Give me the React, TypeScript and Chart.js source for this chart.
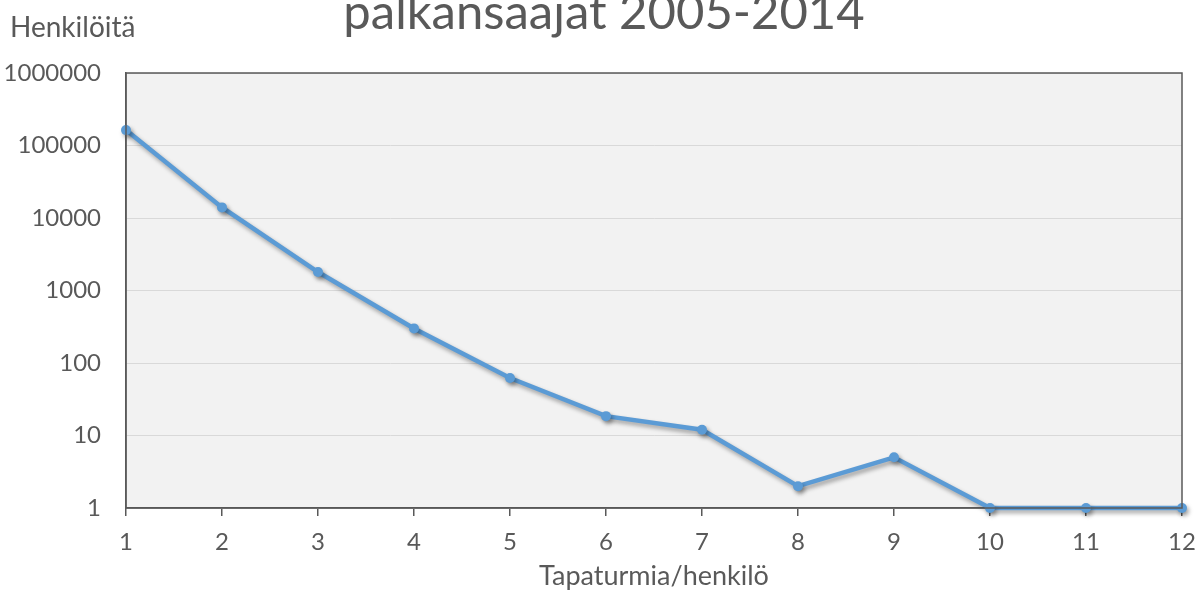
import React, { useEffect, useRef } from "react";
import { Chart, registerables } from "chart.js";

Chart.register(...registerables);

const categories = ["1", "2", "3", "4", "5", "6", "7", "8", "9", "10", "11", "12"];
const persons = [163000, 14000, 1800, 300, 62, 18.5, 12, 2, 5, 1, 1, 1];
const yTickValues = [1, 10, 100, 1000, 10000, 100000, 1000000];
const chartTitle = "palkansaajat 2005-2014";
const yAxisTitle = "Henkilöitä";
const xAxisTitle = "Tapaturmia/henkilö";

const FONT = "Lato, 'Open Sans', sans-serif";
const TEXT = "#595959";
const AXIS = "#595959";

const framePlugin = {
  id: "frame",
  beforeDraw(chart: any) {
    const { ctx, chartArea } = chart;
    ctx.save();
    ctx.fillStyle = "#f2f2f2";
    ctx.fillRect(chartArea.left, chartArea.top, chartArea.right - chartArea.left, chartArea.bottom - chartArea.top);
    ctx.restore();
  },
  afterDraw(chart: any) {
    const { ctx, chartArea } = chart;
    ctx.save();
    ctx.strokeStyle = AXIS;
    ctx.lineWidth = 1.5;
    ctx.strokeRect(chartArea.left, chartArea.top, chartArea.right - chartArea.left, chartArea.bottom - chartArea.top);
    ctx.fillStyle = TEXT;
    ctx.textBaseline = "alphabetic";
    ctx.textAlign = "center";
    ctx.font = `49px ${FONT}`;
    ctx.fillText(chartTitle, 604, 29);
    ctx.textAlign = "left";
    ctx.font = `28px ${FONT}`;
    ctx.fillText(yAxisTitle, 10, 37);
    ctx.restore();
  },
};

const shadowPlugin = {
  id: "lineShadow",
  beforeDatasetsDraw(chart: any) {
    const ctx = chart.ctx;
    ctx.save();
    ctx.shadowColor = "rgba(0,0,0,0.35)";
    ctx.shadowBlur = 4;
    ctx.shadowOffsetX = 2;
    ctx.shadowOffsetY = 3;
  },
  afterDatasetsDraw(chart: any) {
    chart.ctx.restore();
  },
};

export default function App() {
  const ref = useRef<HTMLCanvasElement | null>(null);

  useEffect(() => {
    if (!ref.current) return;
    const chart = new Chart(ref.current, {
      type: "line",
      data: {
        labels: categories,
        datasets: [
          {
            data: persons,
            borderColor: "#5b9bd5",
            backgroundColor: "#5b9bd5",
            borderWidth: 4.5,
            pointRadius: 5,
            pointHoverRadius: 5,
            pointBorderWidth: 0,
            tension: 0,
            clip: false as any,
          },
        ],
      },
      options: {
        animation: false,
        responsive: true,
        maintainAspectRatio: false,
        layout: { padding: { top: 73, right: 15, left: 0, bottom: 0 } },
        plugins: {
          legend: { display: false },
          tooltip: { enabled: false },
          title: { display: false },
        },
        scales: {
          x: {
            type: "category",
            offset: false,
            grid: {
              drawOnChartArea: false,
              drawTicks: true,
              tickLength: 8,
              color: AXIS,
              lineWidth: 1.5,
            },
            border: { color: AXIS, width: 1.5 },
            ticks: {
              color: TEXT,
              font: { family: FONT, size: 24 },
              padding: 12,
              maxRotation: 0,
              autoSkip: false,
            },
            title: {
              display: true,
              text: xAxisTitle,
              color: TEXT,
              font: { family: FONT, size: 27 },
              padding: { top: 0, bottom: 2 },
            },
            afterFit(scale: any) {
              scale.height = 86;
              scale.paddingLeft = 0;
              scale.paddingRight = 0;
            },
          },
          y: {
            type: "logarithmic",
            min: 1,
            max: 1000000,
            grid: { color: "#d9d9d9", lineWidth: 1, drawTicks: false },
            border: { color: AXIS, width: 1.5 },
            ticks: {
              color: TEXT,
              font: { family: FONT, size: 24 },
              padding: 25,
              callback: (v: any) => String(v),
            },
            afterBuildTicks(scale: any) {
              scale.ticks = yTickValues.map((v) => ({ value: v }));
            },
            afterFit(scale: any) {
              scale.width = 126;
              scale.paddingTop = 0;
              scale.paddingBottom = 0;
            },
          },
        },
      } as any,
      plugins: [framePlugin, shadowPlugin],
    });
    return () => chart.destroy();
  }, []);

  return (
    <div style={{ position: "fixed", left: 0, top: 0, width: 1197, height: 594, background: "#fff" }}>
      <canvas ref={ref} />
    </div>
  );
}
